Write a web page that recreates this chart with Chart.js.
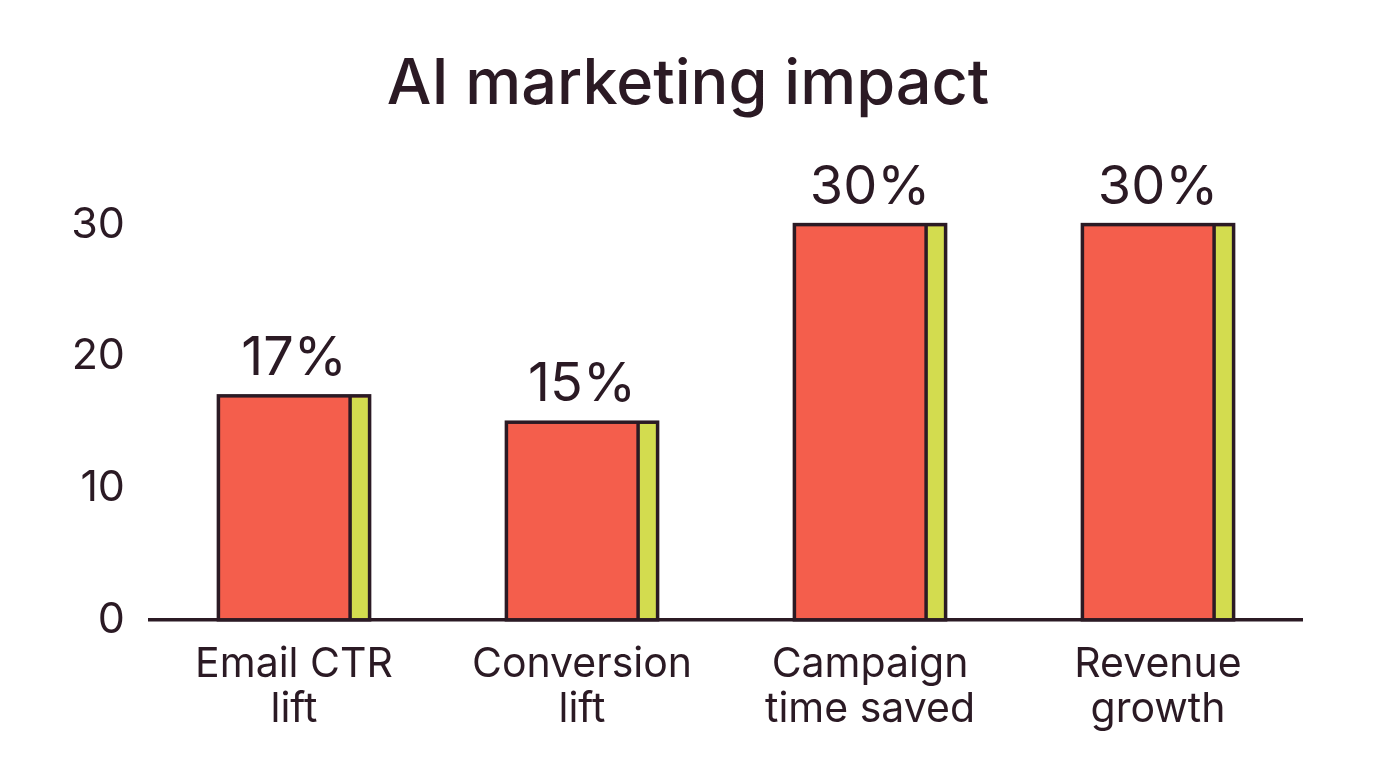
<!DOCTYPE html>
<html>
<head>
<meta charset="utf-8">
<script src="https://cdn.jsdelivr.net/npm/chart.js@4.4.1/dist/chart.umd.min.js"></script>
<style>
  html, body { margin: 0; padding: 0; background: #ffffff; }
  #wrap { width: 1376px; height: 768px; }
</style>
</head>
<body>
<div id="wrap"><canvas id="chart"></canvas></div>
<script>
// chart data
const categories = [['Email CTR', 'lift'], ['Conversion', 'lift'], ['Campaign', 'time saved'], ['Revenue', 'growth']];
const values = [17, 15, 30, 30];
const valueLabels = ['17%', '15%', '30%', '30%'];
const yTicks = [0, 10, 20, 30];

const INK = '#2b1a24';
const RED = '#f45e4c';
const LIME = '#d3dc4f';

// paints the lime stripe on the right edge of each bar + the value text
const barDecor = {
  id: 'barDecor',
  afterDatasetsDraw(chart) {
    const ctx = chart.ctx;
    const meta = chart.getDatasetMeta(0);
    meta.data.forEach((bar, i) => {
      const right = bar.x + bar.width / 2 - 1.5;
      const stripe = 18;
      ctx.save();
      ctx.fillStyle = LIME;
      ctx.fillRect(right - stripe, bar.y + 1.5, stripe, bar.base - bar.y - 1.5);
      ctx.strokeStyle = INK;
      ctx.lineWidth = 3.5;
      ctx.beginPath();
      ctx.moveTo(right - stripe, bar.y);
      ctx.lineTo(right - stripe, bar.base);
      ctx.stroke();
      ctx.strokeRect(bar.x - bar.width / 2, bar.y, bar.width, bar.base - bar.y);
      ctx.fillStyle = INK;
      ctx.font = '54px Inter';
      ctx.textAlign = 'center';
      ctx.textBaseline = 'bottom';
      ctx.fillText(valueLabels[i], bar.x, bar.y - 10);
      ctx.restore();
    });
  }
};

new Chart(document.getElementById('chart'), {
  type: 'bar',
  data: {
    labels: categories,
    datasets: [{
      data: values,
      backgroundColor: RED,
      borderColor: INK,
      borderWidth: 0,
      categoryPercentage: 1,
      barPercentage: 0.525,
    }],
  },
  options: {
    responsive: true,
    maintainAspectRatio: false,
    animation: false,
    layout: { padding: { left: 74, right: 74, top: 0, bottom: 22 } },
    plugins: {
      legend: { display: false },
      tooltip: { enabled: false },
      title: {
        display: true,
        text: 'AI marketing impact',
        color: INK,
        font: { family: 'Inter', size: 63, weight: '500' },
        padding: { top: 47, bottom: 102 },
      },
    },
    scales: {
      y: {
        min: 0,
        max: 30,
        grid: { display: false },
        border: { display: false },
        afterBuildTicks: axis => { axis.ticks = yTicks.map(v => ({ value: v })); },
        afterFit: axis => { axis.width = 76; },
        ticks: { color: INK, padding: 17, font: { family: 'Inter', size: 43 } },
      },
      x: {
        grid: { display: false },
        border: { display: true, color: INK, width: 3.5 },
        ticks: { color: INK, padding: 14, font: { family: 'Inter', size: 41, lineHeight: 1.1 } },
      },
    },
  },
  plugins: [barDecor],
});
</script>
</body>
</html>
